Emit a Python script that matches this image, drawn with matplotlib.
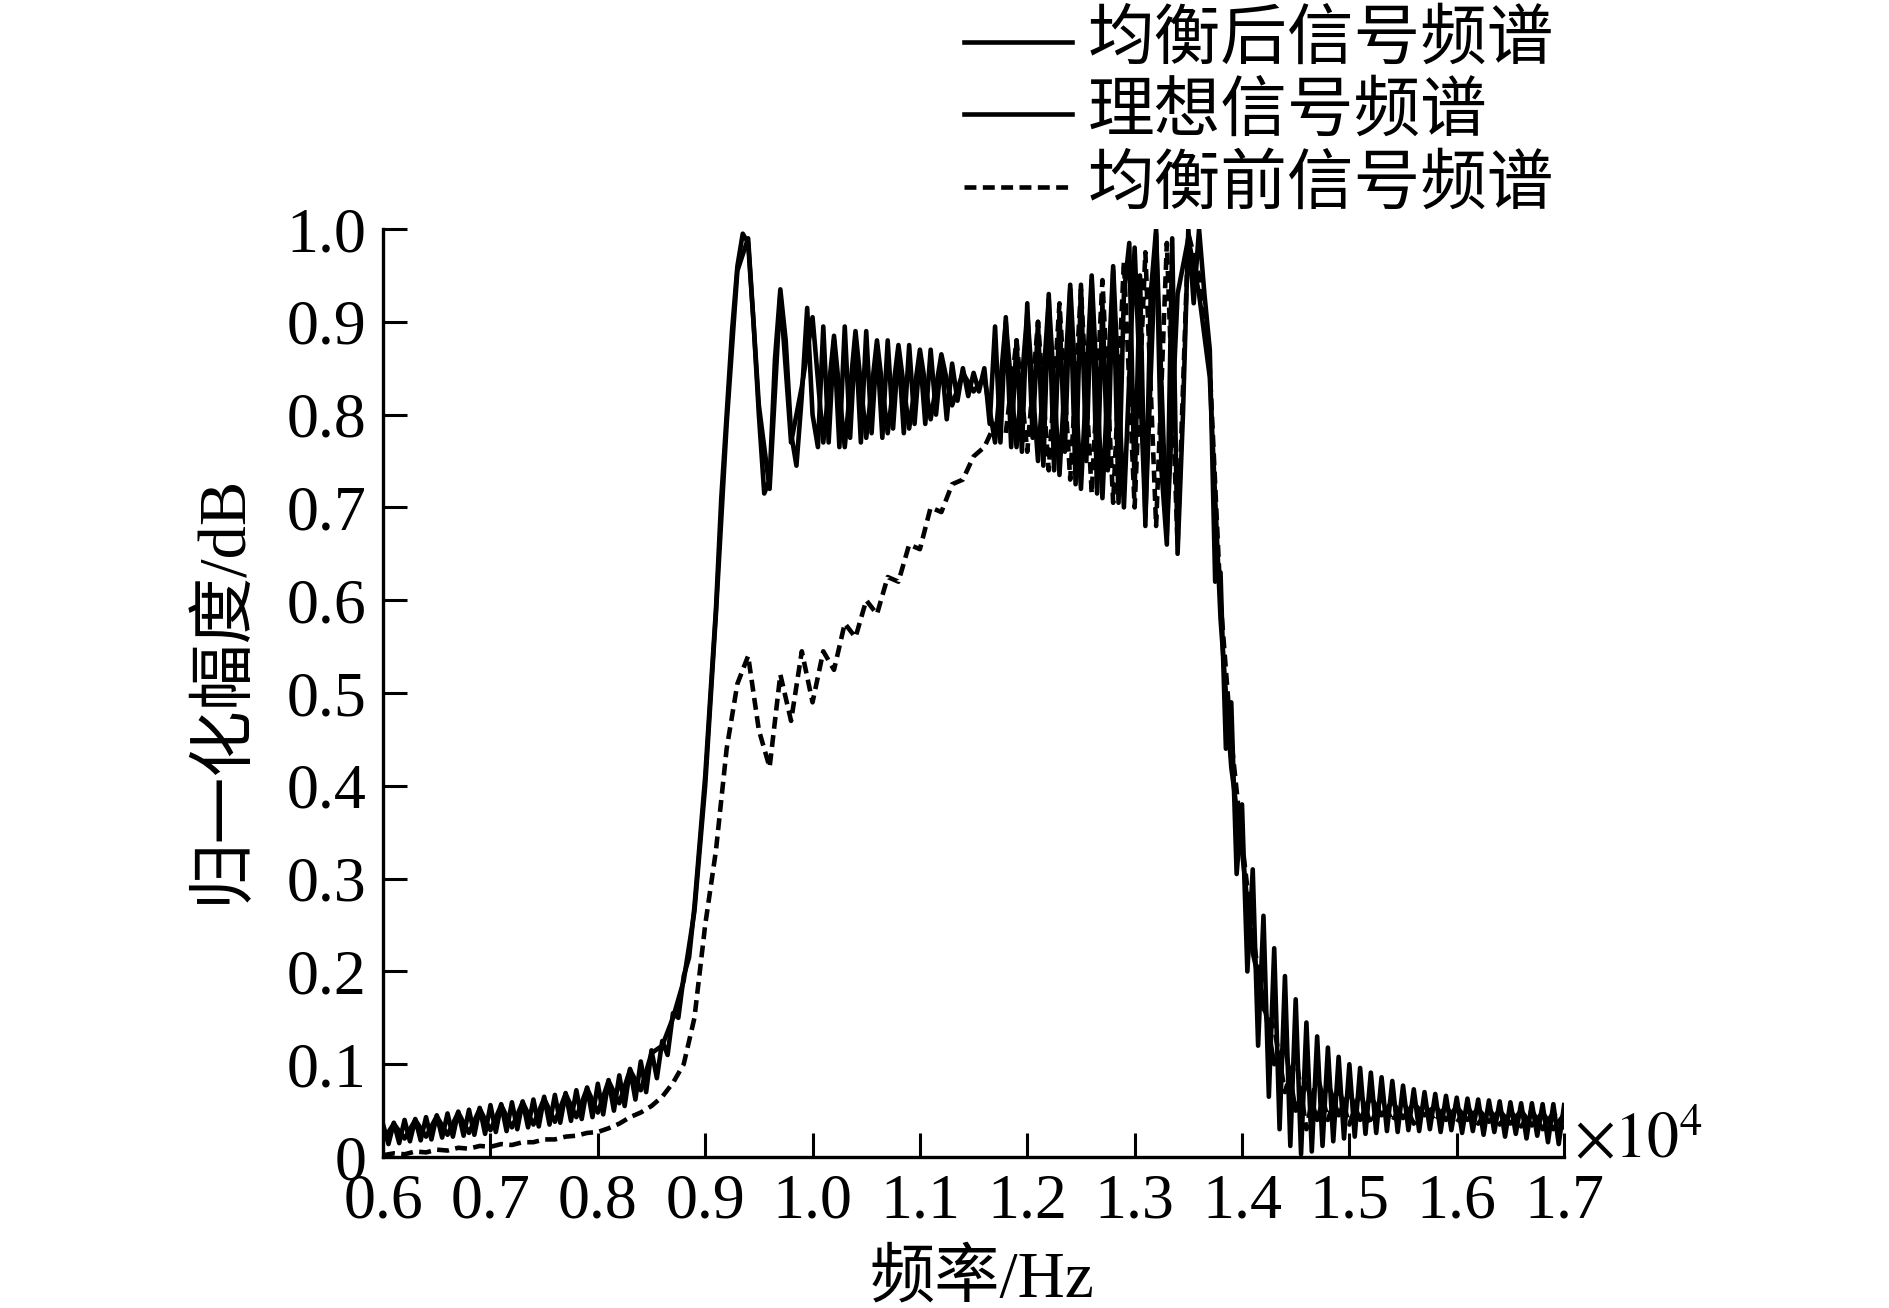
"""Normalized spectrum before / after equalization vs. the ideal spectrum."""

import matplotlib
matplotlib.use("Agg")
import matplotlib.pyplot as plt
import numpy as np
from matplotlib.lines import Line2D

# ---- data ----
# equalized spectrum sampled every 50 Hz from 6000 Hz to 17000 Hz
FREQ_AFTER = np.arange(6000, 17001, 50)
AFTER_EQ = [
    .035, .014, .037, .015, .040, .017, .041, .018, .043, .019,
    .045, .021, .047, .022, .049, .023, .051, .024, .053, .025,
    .056, .027, .057, .028, .059, .030, .060, .032, .062, .033,
    .065, .035, .067, .037, .069, .039, .072, .041, .075, .043,
    .079, .046, .083, .050, .088, .055, .095, .062, .103, .070,
    .115, .085, .125, .110, .155, .150, .195, .215, .270, .340,
    .410, .500, .590, .710, .800, .890, .960, .995, .985, .900,
    .800, .715, .730, .860, .935, .880, .780, .745, .820, .915,
    .800, .765, .895, .770, .880, .765, .895, .775, .885, .770,
    .890, .780, .875, .775, .880, .785, .870, .780, .875, .790,
    .865, .790, .870, .800, .860, .795, .855, .815, .850, .820,
    .845, .825, .850, .790, .895, .770, .905, .765, .880, .760,
    .920, .775, .900, .745, .930, .740, .910, .760, .935, .725,
    .940, .750, .945, .715, .920, .740, .955, .705, .930, .985,
    .720, .950, .680, .930, 1.00, .740, .660, .990, .650, .800,
    1.00, .920, 1.00, .930, .870, .620, .630, .440, .490, .305,
    .380, .200, .310, .120, .260, .065, .225, .030, .195, .012,
    .170, .003, .145, .006, .130, .012, .118, .017, .108, .020,
    .100, .022, .096, .025, .091, .026, .086, .028, .082, .027,
    .077, .029, .073, .028, .070, .030, .068, .027, .066, .029,
    .064, .026, .063, .028, .062, .024, .061, .027, .060, .022,
    .059, .025, .058, .020, .058, .023, .057, .016, .057, .014,
    .056,
]

# ideal and pre-equalization spectra sampled every 100 Hz
FREQ_100 = np.arange(6000, 17001, 100)
IDEAL = [
    .018, .036, .020, .040, .022, .044, .024, .048, .026, .052,
    .029, .056, .032, .059, .035, .063, .038, .068, .043, .074,
    .048, .082, .058, .094, .072, .112, .120, .150, .190, .265,
    .400, .585, .790, .955, .990, .810, .720, .930, .770, .830,
    .905, .770, .885, .765, .890, .775, .880, .780, .875, .785,
    .870, .795, .865, .810, .845, .825, .840, .770, .900, .765,
    .910, .750, .925, .735, .940, .720, .950, .710, .960, .700,
    .980, .690, .995, .670, .930, .990, .930, .840, .580, .420,
    .330, .220, .170, .100, .120, .050, .080, .040, .080, .045,
    .070, .040, .065, .045, .060, .042, .058, .045, .055, .040,
    .054, .040, .052, .038, .050, .036, .050, .034, .048, .030,
    .046,
]
BEFORE_EQ = [
    .002, .004, .003, .006, .005, .008, .007, .010, .009, .012,
    .011, .014, .013, .016, .016, .019, .019, .022, .023, .026,
    .027, .031, .036, .043, .048, .055, .065, .080, .100, .150,
    .250, .330, .440, .510, .540, .460, .420, .520, .470, .545,
    .490, .545, .525, .575, .560, .600, .585, .625, .620, .660,
    .655, .700, .695, .725, .730, .755, .765, .790, .780, .880,
    .760, .900, .740, .920, .730, .935, .715, .945, .705, .965,
    .700, .975, .680, .985, .660, .995, .950, .850, .600, .450,
    .340, .240, .160, .140, .070, .110, .030, .090, .040, .075,
    .035, .070, .035, .065, .038, .060, .036, .057, .038, .055,
    .037, .054, .036, .052, .035, .050, .033, .050, .030, .048,
    .030,
]

XTICKS = [6000, 7000, 8000, 9000, 10000, 11000, 12000, 13000, 14000, 15000, 16000, 17000]
XTICK_LABELS = ["0.6", "0.7", "0.8", "0.9", "1.0", "1.1", "1.2", "1.3", "1.4", "1.5", "1.6", "1.7"]
YTICKS = [0, 0.1, 0.2, 0.3, 0.4, 0.5, 0.6, 0.7, 0.8, 0.9, 1.0]
YTICK_LABELS = ["0", "0.1", "0.2", "0.3", "0.4", "0.5", "0.6", "0.7", "0.8", "0.9", "1.0"]

LEGEND_LABELS = ["均衡后信号频谱", "理想信号频谱", "均衡前信号频谱"]

plt.rcParams["font.family"] = ["Liberation Serif", "Noto Sans CJK SC"]
plt.rcParams["mathtext.fontset"] = "stix"

LW = 3.3
DASHES = (2.6, 1.4)

fig = plt.figure(figsize=(18.89, 13.08), dpi=100)
ax = fig.add_axes([0.2028, 0.1154, 0.6252, 0.7095])

ax.plot(FREQ_100, BEFORE_EQ, color="black", lw=LW, dashes=DASHES)
ax.plot(FREQ_100, IDEAL, color="black", lw=LW)
ax.plot(FREQ_AFTER, AFTER_EQ, color="black", lw=LW)

ax.set_xlim(6000, 17000)
ax.set_ylim(0, 1)
ax.set_xticks(XTICKS)
ax.set_xticklabels(XTICK_LABELS)
ax.set_yticks(YTICKS)
ax.set_yticklabels(YTICK_LABELS)
ax.spines["top"].set_visible(False)
ax.spines["right"].set_visible(False)
for side in ("left", "bottom"):
    ax.spines[side].set_linewidth(2.4)
ax.tick_params(direction="in", length=17, width=2.2, labelsize=46)
ax.tick_params(axis="x", pad=12)
ax.tick_params(axis="y", pad=12)

# axis labels and the x scale factor
fig.text(0.52, 0.021, "频率/Hz", fontsize=47, ha="center", va="center")
fig.text(0.118, 0.474, "归一化幅度/dB", fontsize=48, ha="center", va="center",
         rotation=90)
fig.text(0.833, 0.126, r"$\times10^{4}$", fontsize=46, ha="left", va="center")

# legend drawn by hand above the axes
legend_y = [0.968, 0.913, 0.857]
styles = [dict(), dict(), dict(dashes=DASHES)]
for y, label, st in zip(legend_y, LEGEND_LABELS, styles):
    fig.add_artist(Line2D([0.5103, 0.5675], [y, y], color="black", lw=LW,
                          transform=fig.transFigure, **st))
    fig.text(0.576, y, label, fontsize=48, ha="left", va="center")

fig.savefig("out.png", dpi=100)
plt.close(fig)
